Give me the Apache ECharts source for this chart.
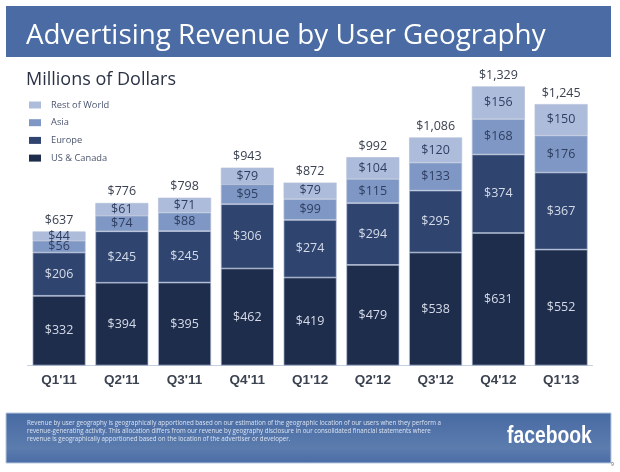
<!DOCTYPE html>
<html>
<head>
<meta charset="utf-8">
<style>
html, body { margin: 0; padding: 0; background: #fff; }
#chart { width: 620px; height: 472px; }
</style>
<script src="https://cdn.jsdelivr.net/npm/echarts@6/dist/echarts.min.js"></script>
</head>
<body>
<div id="chart"></div>
<script>
var quarters = ["Q1'11", "Q2'11", "Q3'11", "Q4'11", "Q1'12", "Q2'12", "Q3'12", "Q4'12", "Q1'13"];
var usCanada = [332, 394, 395, 462, 419, 479, 538, 631, 552];
var europe = [206, 245, 245, 306, 274, 294, 295, 374, 367];
var asia = [56, 74, 88, 95, 99, 115, 133, 168, 176];
var restOfWorld = [44, 61, 71, 79, 79, 104, 120, 156, 150];
var totals = [637, 776, 798, 943, 872, 992, 1086, 1329, 1245];

var font = '"Open Sans", sans-serif';
var footnote = 'Revenue by user geography is geographically apportioned based on our estimation of the geographic location of our users when they perform a\n' +
    'revenue-generating activity. This allocation differs from our revenue by geography disclosure in our consolidated financial statements where\n' +
    'revenue is geographically apportioned based on the location of the advertiser or developer.';

function money(v) {
    return '$' + String(v).replace(/\B(?=(\d{3})+$)/, ',');
}

function barSeries(name, data, color, labelColor) {
    return {
        name: name,
        type: 'bar',
        stack: 'rev',
        barWidth: 53,
        data: data,
        itemStyle: { color: color, borderColor: '#b4c0d8', borderWidth: 0.7 },
        label: {
            show: true,
            position: 'inside',
            color: labelColor,
            fontFamily: font,
            fontSize: 12.5,
            formatter: function (p) { return money(p.value); }
        }
    };
}

var chart = echarts.init(document.getElementById('chart'), null, { renderer: 'canvas' });
chart.setOption({
    animation: false,
    backgroundColor: '#fff',
    grid: { left: 27.7, right: 27.5, top: 50.5, bottom: 106.5 },
    legend: {
        left: 29,
        top: 100.5,
        padding: 0,
        orient: 'vertical',
        icon: 'rect',
        itemWidth: 12,
        itemHeight: 7,
        itemGap: 8.7,
        data: ['Rest of World', 'Asia', 'Europe', 'US & Canada'],
        itemStyle: { borderWidth: 0 },
        textStyle: { color: '#4b556e', fontFamily: font, fontSize: 9.3, padding: [0, 0, 0, 5] }
    },
    xAxis: {
        type: 'category',
        data: quarters,
        axisTick: { show: false },
        axisLine: { lineStyle: { color: '#c5cfe2', width: 1 } },
        axisLabel: {
            color: '#3c4350',
            fontFamily: '"Liberation Sans", sans-serif',
            fontWeight: 'bold',
            fontSize: 13.5,
            margin: 8
        }
    },
    yAxis: { type: 'value', min: 0, max: 1500, show: false },
    series: [
        barSeries('US & Canada', usCanada, '#1f2d4d', '#d5dbe8'),
        barSeries('Europe', europe, '#2f4570', '#d5dbe8'),
        barSeries('Asia', asia, '#7e97c4', '#2f3e60'),
        barSeries('Rest of World', restOfWorld, '#aebcdc', '#2f3e60'),
        {
            name: 'Total',
            type: 'line',
            data: totals,
            symbol: 'circle',
            symbolSize: 1,
            itemStyle: { color: 'transparent' },
            lineStyle: { opacity: 0 },
            label: {
                show: true,
                position: 'top',
                distance: 4,
                color: '#3a4150',
                fontFamily: font,
                fontSize: 12.5,
                formatter: function (p) { return money(p.value); }
            }
        }
    ],
    graphic: [
        {
            type: 'rect', z: -1,
            shape: { x: 6, y: 6, width: 605, height: 51 },
            style: { fill: '#4a6ba3' }
        },
        {
            type: 'text', x: 26, y: 22, scaleX: 0.993,
            style: { text: 'Advertising Revenue by User Geography', fill: '#fff', font: '28px ' + font }
        },
        {
            type: 'text', x: 26, y: 71,
            style: { text: 'Millions of Dollars', fill: '#2b3245', font: '18px ' + font }
        },
        {
            type: 'rect', z: -1,
            shape: { x: 6, y: 413, width: 605, height: 50 },
            style: {
                fill: new echarts.graphic.LinearGradient(0, 0, 0, 1, [
                    { offset: 0, color: '#476aa3' },
                    { offset: 0.7, color: '#5c7cae' },
                    { offset: 1, color: '#4a6ca5' }
                ]),
                stroke: '#b8c8e0',
                lineWidth: 1
            }
        },
        {
            type: 'text', left: 27, top: 419,
            style: { text: footnote, fill: '#dbe3f0', font: '6.2px ' + font, lineHeight: 8 }
        },
        {
            type: 'text', x: 507, y: 425, scaleX: 0.84,
            style: { text: 'facebook', fill: '#fff', font: 'bold 23px "Liberation Sans", sans-serif' }
        },
        {
            type: 'text', left: 611, top: 462,
            style: { text: '9', fill: '#555', font: '5px ' + font }
        }
    ]
});
</script>
</body>
</html>
